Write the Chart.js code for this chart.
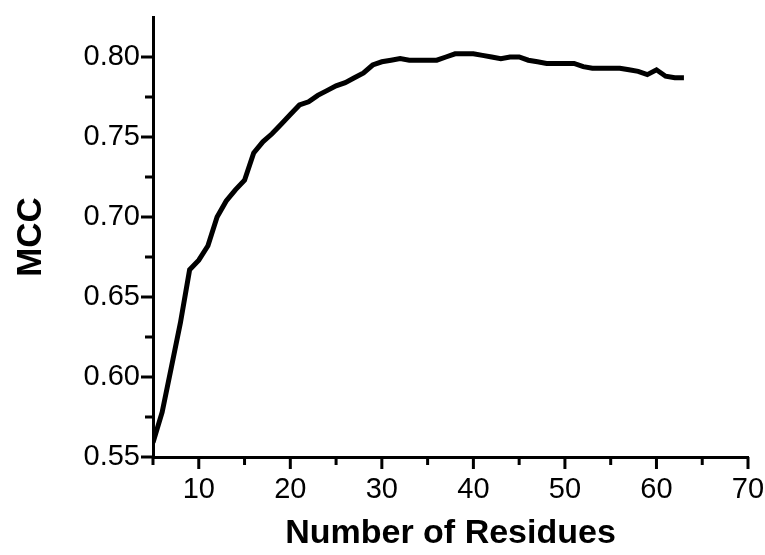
<!DOCTYPE html>
<html>
<head>
<meta charset="utf-8">
<script src="https://cdn.jsdelivr.net/npm/chart.js@4/dist/chart.umd.min.js"></script>
<style>
  html, body { margin: 0; padding: 0; background: #fff; }
  #wrap { width: 765px; height: 555px; }
</style>
</head>
<body>
<div id="wrap"><canvas id="mccChart"></canvas></div>
<script>
// residues used (x) and MCC (y)
const residues = [
  5, 6, 7, 8, 9, 10, 11, 12, 13, 14, 15, 16, 17, 18, 19, 20, 21, 22, 23, 24,
  25, 26, 27, 28, 29, 30, 31, 32, 33, 34, 35, 36, 37, 38, 39, 40, 41, 42, 43,
  44, 45, 46, 47, 48, 49, 50, 51, 52, 53, 54, 55, 56, 57, 58, 59, 60, 61, 62, 63,
];
const mcc = [
  0.559, 0.578, 0.606, 0.634, 0.667, 0.673, 0.682, 0.700, 0.710, 0.717,
  0.723, 0.740, 0.747, 0.752, 0.758, 0.764, 0.770, 0.772, 0.776, 0.779,
  0.782, 0.784, 0.787, 0.790, 0.795, 0.797, 0.798, 0.799, 0.798, 0.798,
  0.798, 0.798, 0.800, 0.802, 0.802, 0.802, 0.801, 0.800, 0.799, 0.800,
  0.800, 0.798, 0.797, 0.796, 0.796, 0.796, 0.796, 0.794, 0.793, 0.793,
  0.793, 0.793, 0.792, 0.791, 0.789, 0.792, 0.788, 0.787, 0.787,
];
const xTickLabels = [10, 20, 30, 40, 50, 60, 70];
const yTickLabels = [0.55, 0.6, 0.65, 0.7, 0.75, 0.8];

const isLabelled = (list, v) => list.some((t) => Math.abs(t - v) < 1e-6);

// draw major/minor tick marks outside the axes
const tickMarks = {
  id: "tickMarks",
  afterDraw(chart) {
    const ctx = chart.ctx;
    const xs = chart.scales.x;
    const ys = chart.scales.y;
    ctx.save();
    ctx.strokeStyle = "#000";
    ctx.lineWidth = 3;
    ctx.lineCap = "butt";
    xs.ticks.forEach((t) => {
      const len = isLabelled(xTickLabels, t.value) ? 12 : 8;
      const px = xs.getPixelForValue(t.value);
      ctx.beginPath();
      ctx.moveTo(px, xs.top);
      ctx.lineTo(px, xs.top + len);
      ctx.stroke();
    });
    ys.ticks.forEach((t) => {
      if (t.value > 0.82) return;
      const len = isLabelled(yTickLabels, t.value) ? 12 : 8;
      const py = ys.getPixelForValue(t.value);
      ctx.beginPath();
      ctx.moveTo(ys.right, py);
      ctx.lineTo(ys.right - len, py);
      ctx.stroke();
    });
    ctx.restore();
  },
};

const tickFont = { family: "'Liberation Sans', Arial, sans-serif", size: 29 };
const titleFont = { family: "'Liberation Sans', Arial, sans-serif", size: 34, weight: "bold", lineHeight: 1 };

new Chart(document.getElementById("mccChart"), {
  type: "line",
  data: {
    datasets: [
      {
        label: "MCC",
        data: residues.map((r, i) => ({ x: r, y: mcc[i] })),
        borderColor: "#000",
        borderWidth: 5,
        pointRadius: 0,
        tension: 0,
        fill: false,
      },
    ],
  },
  options: {
    responsive: true,
    maintainAspectRatio: false,
    animation: false,
    layout: { padding: { left: 0, right: 17, top: 17, bottom: 0 } },
    plugins: { legend: { display: false }, tooltip: { enabled: false } },
    scales: {
      x: {
        type: "linear",
        min: 5,
        max: 70,
        afterFit: (s) => {
          s.height = 98;
          s.paddingLeft = 0;
          s.paddingRight = 0;
        },
        ticks: {
          stepSize: 5,
          color: "#000",
          font: tickFont,
          padding: 16,
          maxRotation: 0,
          autoSkip: false,
          callback: (v) => (isLabelled(xTickLabels, v) ? String(v) : ""),
        },
        grid: { display: false, drawTicks: false },
        border: { display: true, color: "#000", width: 3 },
        title: {
          display: true,
          text: "Number of Residues",
          color: "#000",
          font: titleFont,
          padding: { top: 0, bottom: 4 },
        },
      },
      y: {
        min: 0.55,
        max: 0.825,
        afterFit: (s) => {
          s.width = 153;
          s.paddingTop = 0;
          s.paddingBottom = 0;
        },
        ticks: {
          stepSize: 0.025,
          color: "#000",
          font: tickFont,
          padding: 13,
          autoSkip: false,
          callback: (v) => (isLabelled(yTickLabels, v) ? v.toFixed(2) : ""),
        },
        grid: { display: false, drawTicks: false },
        border: { display: true, color: "#000", width: 3 },
        title: {
          display: true,
          text: "MCC",
          color: "#000",
          font: { family: titleFont.family, size: 35, weight: "bold" },
          padding: { top: 10, bottom: 0 },
        },
      },
    },
  },
  plugins: [tickMarks],
});
</script>
</body>
</html>
